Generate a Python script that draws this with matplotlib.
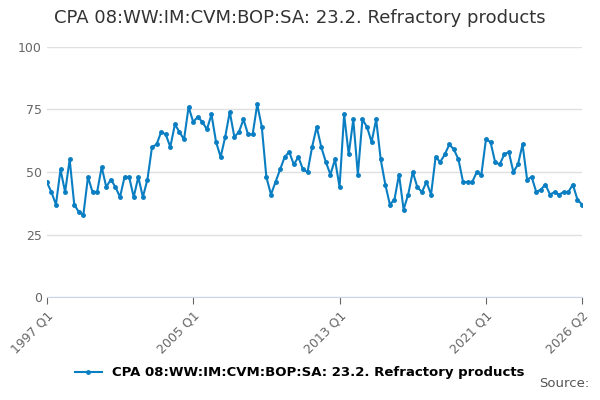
import matplotlib.pyplot as plt

values = [46, 42, 37, 51, 42, 55, 37, 34, 33, 48, 42, 42, 52, 44, 47, 44,
          40, 48, 48, 40, 48, 40, 47, 60, 61, 66, 65, 60, 69, 66, 63, 76,
          70, 72, 70, 67, 73, 62, 56, 64, 74, 64, 66, 71, 65, 65, 77, 68,
          48, 41, 46, 51, 56, 58, 53, 56, 51, 50, 60, 68, 60, 54, 49, 55,
          44, 73, 57, 71, 49, 71, 68, 62, 71, 55, 45, 37, 39, 49, 35, 41,
          50, 44, 42, 46, 41, 56, 54, 57, 61, 59, 55, 46, 46, 46, 50, 49,
          63, 62, 54, 53, 57, 58, 50, 53, 61, 47, 48, 42, 43, 45, 41, 42,
          41, 42, 42, 45, 39, 37]
tick_pos = [0, 32, 64, 96, 117]
tick_labels = ["1997 Q1", "2005 Q1", "2013 Q1", "2021 Q1", "2026 Q2"]
label = "CPA 08:WW:IM:CVM:BOP:SA: 23.2. Refractory products"

fig = plt.figure(figsize=(6, 4), dpi=100)
ax = fig.add_axes([0.078, 0.257, 0.892, 0.626])
ax.plot(range(len(values)), values, color="#0a7ec2", lw=1.5, marker="o", ms=2.5, label=label)
ax.set_xlim(0, 117)
ax.set_ylim(0, 100)
ax.set_yticks([0, 25, 50, 75, 100])
ax.set_xticks(tick_pos)
ax.set_xticklabels(tick_labels, rotation=45, ha="right", rotation_mode="anchor")
ax.grid(axis="y", color="#e0e0e0", lw=1)
ax.set_axisbelow(True)
for s in ["top", "right", "left"]:
    ax.spines[s].set_visible(False)
ax.spines["bottom"].set_color("#ccd6eb")
ax.tick_params(axis="y", length=0, colors="#666666", labelsize=9)
ax.tick_params(axis="x", colors="#666666", labelsize=9, length=5)
fig.text(0.5, 0.955, label, ha="center", va="center", fontsize=13, color="#333333")
fig.legend(loc="center", bbox_to_anchor=(0.5, 0.068), frameon=False, fontsize=9.5,
           prop={"weight": "bold", "size": 9.5}, handlelength=2)
fig.text(0.982, 0.025, "Source:", ha="right", va="bottom", fontsize=9.5, color="#555555")
fig.savefig("out.png")
